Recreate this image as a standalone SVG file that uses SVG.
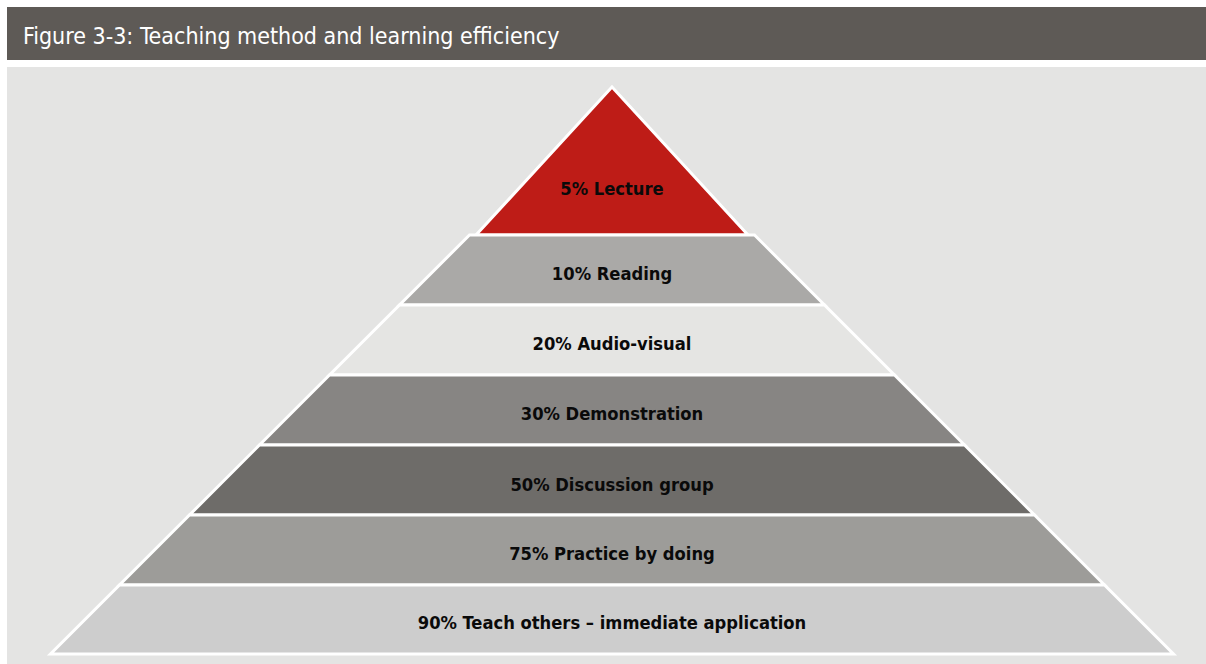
<svg xmlns="http://www.w3.org/2000/svg" width="1206" height="664" viewBox="0 0 1206 664">
<style>
.lyr{stroke:#ffffff;stroke-width:3;stroke-linejoin:miter}
.lbl{font-family:"DejaVu Sans Condensed","DejaVu Sans","Liberation Sans",sans-serif;font-weight:bold;font-size:18.2px;fill:#0a0a0a;text-anchor:middle}
.ttl{font-family:"DejaVu Sans Condensed","DejaVu Sans","Liberation Sans",sans-serif;font-size:23px;fill:#ffffff}
</style>
<rect x="0" y="0" width="1206" height="664" fill="#ffffff"/>
<g id="header">
<rect x="7" y="7" width="1199" height="53" fill="#5e5a56"/>
<text class="ttl" x="23" y="44">Figure 3-3: Teaching method and learning efficiency</text>
</g>
<rect x="7" y="67" width="1199" height="597" fill="#e4e4e3"/>
<g id="lecture">
<polygon class="lyr" points="612,87 748,235 476,235" fill="#be1c17"/>
<text class="lbl" x="612" y="195">5% Lecture</text>
</g>
<g id="reading">
<polygon class="lyr" points="469.5,235 754.5,235 824.5,305 399.5,305" fill="#aaa9a7"/>
<text class="lbl" x="612" y="280">10% Reading</text>
</g>
<g id="audiovisual">
<polygon class="lyr" points="399.5,305 824.5,305 894.5,375 329.5,375" fill="#e5e5e3"/>
<text class="lbl" x="612" y="350">20% Audio-visual</text>
</g>
<g id="demonstration">
<polygon class="lyr" points="329.5,375 894.5,375 964.5,445 259.5,445" fill="#878583"/>
<text class="lbl" x="612" y="420">30% Demonstration</text>
</g>
<g id="discussion">
<polygon class="lyr" points="259.5,445 964.5,445 1034.5,515 189.5,515" fill="#6e6c69"/>
<text class="lbl" x="612" y="491">50% Discussion group</text>
</g>
<g id="practice">
<polygon class="lyr" points="189.5,515 1034.5,515 1104.5,585 119.5,585" fill="#9d9c99"/>
<text class="lbl" x="612" y="560">75% Practice by doing</text>
</g>
<g id="teach">
<polygon class="lyr" points="119.5,585 1104.5,585 1173.5,654 50.5,654" fill="#cdcdcd"/>
<text class="lbl" x="612" y="629">90% Teach others – immediate application</text>
</g>
<g id="connectors"></g>
</svg>
